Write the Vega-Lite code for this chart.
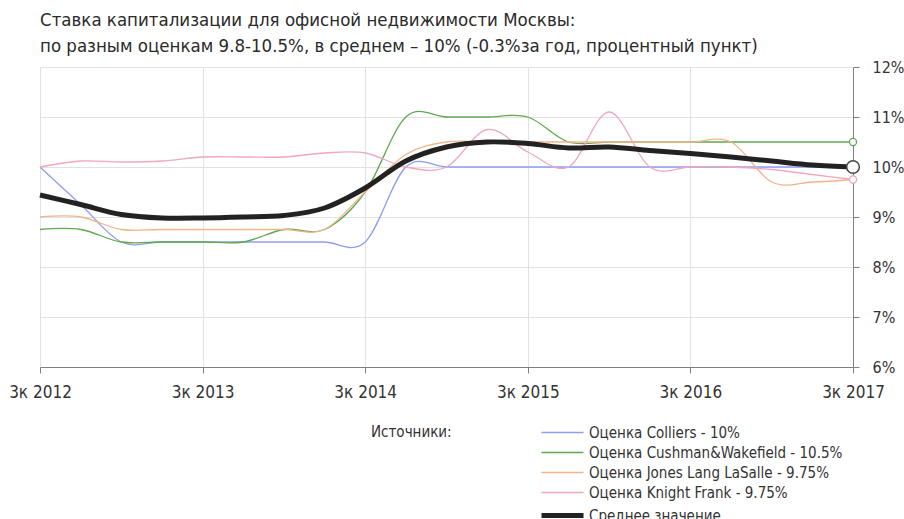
{
  "$schema": "https://vega.github.io/schema/vega-lite/v6.json",
  "width": 813,
  "height": 300,
  "autosize": {"type": "none"},
  "padding": {"left": 40, "top": 67, "right": 51, "bottom": 152},
  "background": "white",
  "config": {
    "view": {"stroke": null},
    "font": "DejaVu Sans Condensed, DejaVu Sans, sans-serif"
  },
  "title": {
    "text": ["Ставка капитализации для офисной недвижимости Москвы:", "по разным оценкам 9.8-10.5%, в среднем – 10% (-0.3%за год, процентный пункт)"],
    "anchor": "start",
    "frame": "group",
    "offset": 4,
    "fontSize": 18.5,
    "fontWeight": "normal",
    "color": "#2a2a2a",
    "lineHeight": 26
  },
  "data": {
    "values": [
      {"x": 2012.5, "s": "Оценка Colliers - 10%", "v": 10},
      {"x": 2012.75, "s": "Оценка Colliers - 10%", "v": 9.25},
      {"x": 2013, "s": "Оценка Colliers - 10%", "v": 8.5},
      {"x": 2013.25, "s": "Оценка Colliers - 10%", "v": 8.5},
      {"x": 2013.5, "s": "Оценка Colliers - 10%", "v": 8.5},
      {"x": 2013.75, "s": "Оценка Colliers - 10%", "v": 8.5},
      {"x": 2014, "s": "Оценка Colliers - 10%", "v": 8.5},
      {"x": 2014.25, "s": "Оценка Colliers - 10%", "v": 8.5},
      {"x": 2014.5, "s": "Оценка Colliers - 10%", "v": 8.5},
      {"x": 2014.75, "s": "Оценка Colliers - 10%", "v": 10},
      {"x": 2015, "s": "Оценка Colliers - 10%", "v": 10},
      {"x": 2015.25, "s": "Оценка Colliers - 10%", "v": 10},
      {"x": 2015.5, "s": "Оценка Colliers - 10%", "v": 10},
      {"x": 2015.75, "s": "Оценка Colliers - 10%", "v": 10},
      {"x": 2016, "s": "Оценка Colliers - 10%", "v": 10},
      {"x": 2016.25, "s": "Оценка Colliers - 10%", "v": 10},
      {"x": 2016.5, "s": "Оценка Colliers - 10%", "v": 10},
      {"x": 2016.75, "s": "Оценка Colliers - 10%", "v": 10},
      {"x": 2017, "s": "Оценка Colliers - 10%", "v": 10},
      {"x": 2017.25, "s": "Оценка Colliers - 10%", "v": 10},
      {"x": 2017.5, "s": "Оценка Colliers - 10%", "v": 10},

      {"x": 2012.5, "s": "Оценка Cushman&Wakefield - 10.5%", "v": 8.75},
      {"x": 2012.75, "s": "Оценка Cushman&Wakefield - 10.5%", "v": 8.75},
      {"x": 2013, "s": "Оценка Cushman&Wakefield - 10.5%", "v": 8.5},
      {"x": 2013.25, "s": "Оценка Cushman&Wakefield - 10.5%", "v": 8.5},
      {"x": 2013.5, "s": "Оценка Cushman&Wakefield - 10.5%", "v": 8.5},
      {"x": 2013.75, "s": "Оценка Cushman&Wakefield - 10.5%", "v": 8.5},
      {"x": 2014, "s": "Оценка Cushman&Wakefield - 10.5%", "v": 8.75},
      {"x": 2014.25, "s": "Оценка Cushman&Wakefield - 10.5%", "v": 8.75},
      {"x": 2014.5, "s": "Оценка Cushman&Wakefield - 10.5%", "v": 9.5},
      {"x": 2014.75, "s": "Оценка Cushman&Wakefield - 10.5%", "v": 11},
      {"x": 2015, "s": "Оценка Cushman&Wakefield - 10.5%", "v": 11},
      {"x": 2015.25, "s": "Оценка Cushman&Wakefield - 10.5%", "v": 11},
      {"x": 2015.5, "s": "Оценка Cushman&Wakefield - 10.5%", "v": 11},
      {"x": 2015.75, "s": "Оценка Cushman&Wakefield - 10.5%", "v": 10.5},
      {"x": 2016, "s": "Оценка Cushman&Wakefield - 10.5%", "v": 10.5},
      {"x": 2016.25, "s": "Оценка Cushman&Wakefield - 10.5%", "v": 10.5},
      {"x": 2016.5, "s": "Оценка Cushman&Wakefield - 10.5%", "v": 10.5},
      {"x": 2016.75, "s": "Оценка Cushman&Wakefield - 10.5%", "v": 10.5},
      {"x": 2017, "s": "Оценка Cushman&Wakefield - 10.5%", "v": 10.5},
      {"x": 2017.25, "s": "Оценка Cushman&Wakefield - 10.5%", "v": 10.5},
      {"x": 2017.5, "s": "Оценка Cushman&Wakefield - 10.5%", "v": 10.5},

      {"x": 2012.5, "s": "Оценка Jones Lang LaSalle - 9.75%", "v": 9},
      {"x": 2012.75, "s": "Оценка Jones Lang LaSalle - 9.75%", "v": 9},
      {"x": 2013, "s": "Оценка Jones Lang LaSalle - 9.75%", "v": 8.75},
      {"x": 2013.25, "s": "Оценка Jones Lang LaSalle - 9.75%", "v": 8.75},
      {"x": 2013.5, "s": "Оценка Jones Lang LaSalle - 9.75%", "v": 8.75},
      {"x": 2013.75, "s": "Оценка Jones Lang LaSalle - 9.75%", "v": 8.75},
      {"x": 2014, "s": "Оценка Jones Lang LaSalle - 9.75%", "v": 8.75},
      {"x": 2014.25, "s": "Оценка Jones Lang LaSalle - 9.75%", "v": 8.75},
      {"x": 2014.5, "s": "Оценка Jones Lang LaSalle - 9.75%", "v": 9.5},
      {"x": 2014.75, "s": "Оценка Jones Lang LaSalle - 9.75%", "v": 10.25},
      {"x": 2015, "s": "Оценка Jones Lang LaSalle - 9.75%", "v": 10.5},
      {"x": 2015.25, "s": "Оценка Jones Lang LaSalle - 9.75%", "v": 10.5},
      {"x": 2015.5, "s": "Оценка Jones Lang LaSalle - 9.75%", "v": 10.5},
      {"x": 2015.75, "s": "Оценка Jones Lang LaSalle - 9.75%", "v": 10.5},
      {"x": 2016, "s": "Оценка Jones Lang LaSalle - 9.75%", "v": 10.5},
      {"x": 2016.25, "s": "Оценка Jones Lang LaSalle - 9.75%", "v": 10.5},
      {"x": 2016.5, "s": "Оценка Jones Lang LaSalle - 9.75%", "v": 10.5},
      {"x": 2016.75, "s": "Оценка Jones Lang LaSalle - 9.75%", "v": 10.5},
      {"x": 2017, "s": "Оценка Jones Lang LaSalle - 9.75%", "v": 9.7},
      {"x": 2017.25, "s": "Оценка Jones Lang LaSalle - 9.75%", "v": 9.7},
      {"x": 2017.5, "s": "Оценка Jones Lang LaSalle - 9.75%", "v": 9.75},

      {"x": 2012.5, "s": "Оценка Knight Frank - 9.75%", "v": 10},
      {"x": 2012.75, "s": "Оценка Knight Frank - 9.75%", "v": 10.12},
      {"x": 2013, "s": "Оценка Knight Frank - 9.75%", "v": 10.1},
      {"x": 2013.25, "s": "Оценка Knight Frank - 9.75%", "v": 10.12},
      {"x": 2013.5, "s": "Оценка Knight Frank - 9.75%", "v": 10.2},
      {"x": 2013.75, "s": "Оценка Knight Frank - 9.75%", "v": 10.2},
      {"x": 2014, "s": "Оценка Knight Frank - 9.75%", "v": 10.2},
      {"x": 2014.25, "s": "Оценка Knight Frank - 9.75%", "v": 10.28},
      {"x": 2014.5, "s": "Оценка Knight Frank - 9.75%", "v": 10.28},
      {"x": 2014.75, "s": "Оценка Knight Frank - 9.75%", "v": 10},
      {"x": 2015, "s": "Оценка Knight Frank - 9.75%", "v": 10},
      {"x": 2015.25, "s": "Оценка Knight Frank - 9.75%", "v": 10.75},
      {"x": 2015.5, "s": "Оценка Knight Frank - 9.75%", "v": 10.3},
      {"x": 2015.75, "s": "Оценка Knight Frank - 9.75%", "v": 10},
      {"x": 2016, "s": "Оценка Knight Frank - 9.75%", "v": 11.1},
      {"x": 2016.25, "s": "Оценка Knight Frank - 9.75%", "v": 10},
      {"x": 2016.5, "s": "Оценка Knight Frank - 9.75%", "v": 10},
      {"x": 2016.75, "s": "Оценка Knight Frank - 9.75%", "v": 10},
      {"x": 2017, "s": "Оценка Knight Frank - 9.75%", "v": 9.95},
      {"x": 2017.25, "s": "Оценка Knight Frank - 9.75%", "v": 9.85},
      {"x": 2017.5, "s": "Оценка Knight Frank - 9.75%", "v": 9.75},

      {"x": 2012.5, "s": "Среднее значение", "v": 9.44},
      {"x": 2012.75, "s": "Среднее значение", "v": 9.25},
      {"x": 2013, "s": "Среднее значение", "v": 9.05},
      {"x": 2013.25, "s": "Среднее значение", "v": 8.98},
      {"x": 2013.5, "s": "Среднее значение", "v": 8.98},
      {"x": 2013.75, "s": "Среднее значение", "v": 9.0},
      {"x": 2014, "s": "Среднее значение", "v": 9.03},
      {"x": 2014.25, "s": "Среднее значение", "v": 9.18},
      {"x": 2014.5, "s": "Среднее значение", "v": 9.58},
      {"x": 2014.75, "s": "Среднее значение", "v": 10.12},
      {"x": 2015, "s": "Среднее значение", "v": 10.4},
      {"x": 2015.25, "s": "Среднее значение", "v": 10.5},
      {"x": 2015.5, "s": "Среднее значение", "v": 10.47},
      {"x": 2015.75, "s": "Среднее значение", "v": 10.38},
      {"x": 2016, "s": "Среднее значение", "v": 10.4},
      {"x": 2016.25, "s": "Среднее значение", "v": 10.33},
      {"x": 2016.5, "s": "Среднее значение", "v": 10.27},
      {"x": 2016.75, "s": "Среднее значение", "v": 10.2},
      {"x": 2017, "s": "Среднее значение", "v": 10.12},
      {"x": 2017.25, "s": "Среднее значение", "v": 10.04},
      {"x": 2017.5, "s": "Среднее значение", "v": 10.0}
    ]
  },
  "encoding": {
    "x": {
      "field": "x",
      "type": "quantitative",
      "scale": {"domain": [2012.5, 2017.5], "nice": false, "zero": false},
      "axis": {
        "title": null,
        "values": [2012.5, 2013.5, 2014.5, 2015.5, 2016.5, 2017.5],
        "labelExpr": "'3к ' + floor(datum.value)",
        "grid": true,
        "gridColor": "#e2e2e2",
        "domainColor": "#808080",
        "tickColor": "#808080",
        "tickSize": 6,
        "labelPadding": 11,
        "labelFontSize": 17,
        "labelColor": "#333333",
        "labelFlush": false
      }
    },
    "y": {
      "field": "v",
      "type": "quantitative",
      "scale": {"domain": [6, 12], "nice": false, "zero": false},
      "axis": {
        "orient": "right",
        "title": null,
        "values": [6, 7, 8, 9, 10, 11, 12],
        "labelExpr": "datum.value + '%'",
        "grid": true,
        "gridColor": "#e2e2e2",
        "domainColor": "#808080",
        "tickColor": "#808080",
        "tickSize": 6,
        "labelPadding": 13,
        "labelFontSize": 16,
        "labelColor": "#333333"
      }
    }
  },
  "layer": [
    {
      "transform": [{"filter": "datum.s != 'Среднее значение'"}],
      "mark": {"type": "line", "interpolate": "cardinal", "strokeWidth": 1.3},
      "encoding": {
        "color": {
          "field": "s",
          "type": "nominal",
          "scale": {
            "domain": ["Оценка Colliers - 10%", "Оценка Cushman&Wakefield - 10.5%", "Оценка Jones Lang LaSalle - 9.75%", "Оценка Knight Frank - 9.75%", "Среднее значение"],
            "range": ["#8e9df2", "#5fa84f", "#f3b48a", "#f2a7bd", "#222222"]
          },
          "legend": {
            "orient": "none",
            "legendX": 331,
            "legendY": 358,
            "title": "Источники:",
            "titleOrient": "left",
            "titleAnchor": "start",
            "titleBaseline": "top",
            "titlePadding": 92,
            "titleFontSize": 15,
            "titleFontWeight": "normal",
            "titleColor": "#333333",
            "symbolType": "M-1,0H3.2",
            "symbolSize": 400,
            "labelFontSize": 15,
            "labelColor": "#333333",
            "labelOffset": 30,
            "labelLimit": 400,
            "rowPadding": 4,
            "encode": {
              "symbols": {
                "update": {
                  "strokeWidth": {"signal": "datum.value == 'Среднее значение' ? 5 : 1.3"}
                }
              }
            }
          }
        }
      }
    },
    {
      "transform": [{"filter": "datum.s == 'Среднее значение'"}],
      "mark": {"type": "line", "interpolate": "cardinal", "strokeWidth": 5},
      "encoding": {
        "color": {"field": "s", "type": "nominal"}
      }
    },
    {
      "transform": [{"filter": "datum.x == 2017.5 && datum.s != 'Среднее значение'"}],
      "mark": {"type": "point", "shape": "circle", "filled": true, "fill": "white", "size": 50, "strokeWidth": 1.3, "opacity": 1},
      "encoding": {
        "stroke": {
          "field": "s",
          "type": "nominal",
          "scale": {
            "domain": ["Оценка Colliers - 10%", "Оценка Cushman&Wakefield - 10.5%", "Оценка Jones Lang LaSalle - 9.75%", "Оценка Knight Frank - 9.75%"],
            "range": ["#8e9df2", "#5fa84f", "#f3b48a", "#f2a7bd"]
          },
          "legend": null
        }
      }
    },
    {
      "transform": [{"filter": "datum.x == 2017.5 && datum.s == 'Среднее значение'"}],
      "mark": {"type": "point", "shape": "circle", "filled": true, "fill": "white", "stroke": "#444444", "size": 160, "strokeWidth": 1.5, "opacity": 1}
    }
  ]
}
